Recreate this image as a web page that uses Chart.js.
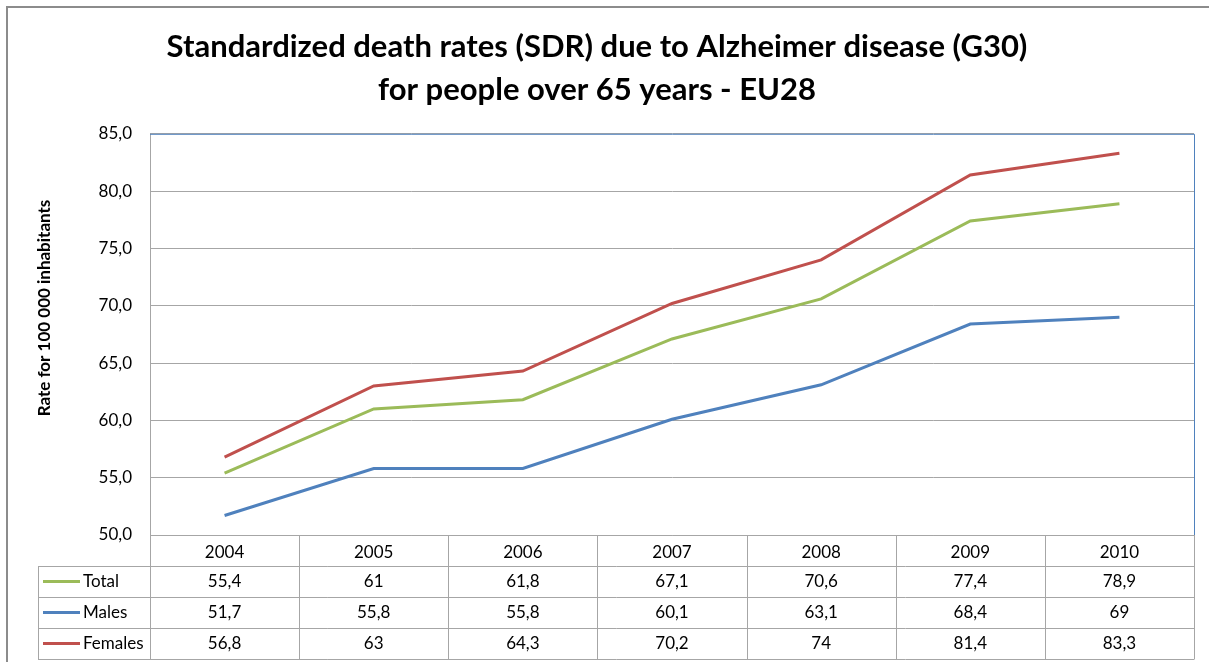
<!DOCTYPE html>
<html>
<head>
<meta charset="utf-8">
<script src="https://cdn.jsdelivr.net/npm/chart.js@4"></script>
<style>
  body { margin: 0; background: #fff; }
  #wrap { width: 1209px; height: 662px; }
</style>
</head>
<body>
<div id="wrap"><canvas id="sdr"></canvas></div>
<script>
// data
const years = ["2004", "2005", "2006", "2007", "2008", "2009", "2010"];
const total = [55.4, 61, 61.8, 67.1, 70.6, 77.4, 78.9];
const males = [51.7, 55.8, 55.8, 60.1, 63.1, 68.4, 69];
const females = [56.8, 63, 64.3, 70.2, 74, 81.4, 83.3];
const seriesNames = ["Total", "Males", "Females"];

const lineColors = ["#9bbb59", "#4f81bd", "#c0504d"];
const gridColor = "#a6a6a6";
const font = "Lato";

const comma = (v) => String(v).replace(".", ",");

// frame, plot border, y title and the data table under the axis
const tablePlugin = {
    id: "dataTable",
    beforeDraw(chart) {
        const ctx = chart.ctx;
        ctx.save();
        ctx.strokeStyle = "#8c8c8c";
        ctx.lineWidth = 2;
        ctx.strokeRect(7, 7, 1220, 680);
        ctx.restore();
    },
    afterDraw(chart) {
        const ctx = chart.ctx;
        const area = chart.chartArea;
        const x = chart.scales.x;
        const n = years.length;
        const colW = area.width / n;
        const headTop = x.top;
        const rowH = x.bottom - x.top;
        const tableLeft = 38;

        ctx.save();
        // blue plot border (top, right)
        ctx.strokeStyle = "#4f81bd";
        ctx.lineWidth = 1;
        ctx.beginPath();
        ctx.moveTo(area.left, area.top + 0.5);
        ctx.lineTo(area.right + 0.5, area.top + 0.5);
        ctx.lineTo(area.right + 0.5, area.bottom);
        ctx.stroke();

        // table grid
        ctx.strokeStyle = gridColor;
        ctx.beginPath();
        for (let i = 0; i <= n; i++) {
            const px = Math.round(area.left + i * colW) + 0.5;
            ctx.moveTo(px, headTop);
            ctx.lineTo(px, headTop + rowH * 4);
        }
        for (let r = 1; r <= 4; r++) {
            const py = Math.round(headTop + rowH * r) + 0.5;
            ctx.moveTo(tableLeft, py);
            ctx.lineTo(area.right + 0.5, py);
        }
        ctx.moveTo(tableLeft + 0.5, headTop + rowH);
        ctx.lineTo(tableLeft + 0.5, headTop + rowH * 4);
        ctx.stroke();

        // rows
        const rows = [total, males, females];
        ctx.font = "17px " + font;
        ctx.textBaseline = "middle";
        rows.forEach((vals, r) => {
            const cy = headTop + rowH * (r + 1) + rowH / 2;
            ctx.strokeStyle = lineColors[r];
            ctx.lineWidth = 3;
            ctx.beginPath();
            ctx.moveTo(43, cy);
            ctx.lineTo(80, cy);
            ctx.stroke();
            ctx.fillStyle = "#000";
            ctx.textAlign = "left";
            ctx.fillText(seriesNames[r], 83, cy);
            ctx.textAlign = "center";
            vals.forEach((v, i) => {
                ctx.fillText(comma(v), x.getPixelForValue(i), cy);
            });
        });

        // y axis title
        ctx.translate(45, 308);
        ctx.rotate(-Math.PI / 2);
        ctx.font = "bold 17px " + font;
        ctx.textAlign = "center";
        ctx.fillText("Rate for 100 000 inhabitants", 0, 0);
        ctx.restore();
    }
};

const makeSet = (label, values, color) => ({
    label: label,
    data: values,
    borderColor: color,
    backgroundColor: color,
    borderWidth: 3,
    pointRadius: 0,
    tension: 0,
});

new Chart(document.getElementById("sdr"), {
    type: "line",
    plugins: [tablePlugin],
    data: {
        labels: years,
        datasets: [
            makeSet(seriesNames[0], total, lineColors[0]),
            makeSet(seriesNames[1], males, lineColors[1]),
            makeSet(seriesNames[2], females, lineColors[2]),
        ],
    },
    options: {
        responsive: true,
        maintainAspectRatio: false,
        animation: false,
        layout: { padding: { top: 8, left: 0, right: 15, bottom: 96 } },
        plugins: {
            legend: { display: false },
            tooltip: { enabled: false },
            title: {
                display: true,
                text: ["Standardized death rates (SDR) due to Alzheimer disease (G30)", "for people over 65 years - EU28"],
                color: "#000",
                font: { family: font, size: 31, weight: "bold", lineHeight: 1.4 },
                padding: { top: 17, bottom: 22 },
            },
        },
        scales: {
            x: {
                offset: true,
                grid: { display: false, drawTicks: false },
                border: { color: gridColor },
                ticks: { color: "#000", padding: 7, font: { family: font, size: 17 } },
                afterFit: (s) => { s.height = 31; },
            },
            y: {
                min: 50,
                max: 85,
                grid: { color: gridColor, drawTicks: false },
                border: { color: gridColor },
                ticks: {
                    stepSize: 5,
                    color: "#000",
                    padding: 18,
                    font: { family: font, size: 17 },
                    callback: (v) => v.toFixed(1).replace(".", ","),
                },
                afterFit: (s) => { s.width = 150; },
            },
        },
    },
});
</script>
</body>
</html>
